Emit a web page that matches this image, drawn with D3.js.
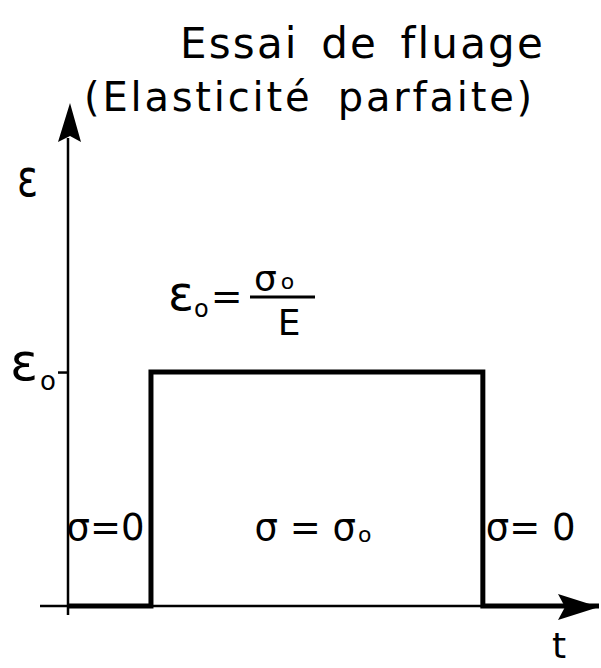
<!DOCTYPE html>
<html><head><meta charset="utf-8">
<script src="https://cdn.jsdelivr.net/npm/d3@7"></script>
<style>body{margin:0;background:#fff}svg{display:block}text{font-family:"DejaVu Sans",sans-serif;fill:#000}</style>
</head><body>
<script>
// ---- data ----
const titleLines = ["Essai de fluage", "(Elasticité parfaite)"];
const curveT = [0, 1, 1, 5, 5, 6.4];
const curveStrain = [0, 0, 1, 1, 0, 0];
const phaseStart = [0, 1, 5];
const phaseEnd = [1, 5, 6.25];
const phaseLabels = [["σ=0", ""], ["σ = σ", "o"], ["σ= 0", ""]];
const strainTicks = [1];
const axisLabels = {y: "ε", x: "t", tick: "ε"};

const W = 601, H = 668;
const svg = d3.select("body").append("svg").attr("width", W).attr("height", H);
const x = d3.scaleLinear().domain([0, 6.4]).range([68, 599]);
const y = d3.scaleLinear().domain([0, 2.15]).range([606, 103]);

// title: fit each line to its span by widening the word gaps
function titleLine(txt, x0, yb, fs, ls, target) {
  const t = svg.append("text").attr("x", x0).attr("y", yb).attr("font-size", fs)
    .attr("letter-spacing", ls).text(txt);
  const nat = t.node().getComputedTextLength();
  const spaces = (txt.match(/ /g) || []).length;
  if (spaces) t.attr("word-spacing", Math.max(0, (target - nat) / spaces));
}
titleLine(titleLines[0], 180, 58, 42, 2.2, 365);
titleLine(titleLines[1], 84, 111, 40, 2.8, 451);

// axes lines
const ax = svg.append("g").attr("stroke", "#000").attr("fill", "none");
ax.append("line").attr("x1", x(0)).attr("x2", x(0)).attr("y1", y(0) + 9).attr("y2", y(2.0)).attr("stroke-width", 2.5);
ax.append("line").attr("x1", 40).attr("x2", x(6.25)).attr("y1", y(0)).attr("y2", y(0)).attr("stroke-width", 2.5);
// arrowheads
const ty = y(2.15), tx = x(6.4);
svg.append("path").attr("d", `M${x(0)+2},${ty} L${x(0)+13},${ty+39} L${x(0)+2},${ty+33} L${x(0)-10},${ty+39} Z`).attr("fill", "#000");
svg.append("path").attr("d", `M${tx},${y(0)+1} L${tx-41},${y(0)+14} L${tx-34},${y(0)+1} L${tx-41},${y(0)-12} Z`).attr("fill", "#000");

// tick via d3 axis
const yAxis = d3.axisLeft(y).tickValues(strainTicks).tickSize(10).tickFormat("");
const gy = svg.append("g").attr("transform", `translate(${x(0)},0)`).call(yAxis);
gy.select(".domain").remove();
gy.selectAll(".tick line").attr("stroke", "#000").attr("stroke-width", 2.5);

// curve
const line = d3.line().x((d, i) => x(curveT[i])).y(d => y(d)).curve(d3.curveLinear);
svg.append("path").datum(curveStrain).attr("d", line).attr("fill", "none")
  .attr("stroke", "#000").attr("stroke-width", 5).attr("stroke-linejoin", "miter");

// axis labels
svg.append("text").attr("x", 17).attr("y", 196).attr("font-size", 52)
  .attr("transform", "translate(17,196) scale(0.75,1) translate(-17,-196)").text(axisLabels.y);
svg.append("text").attr("x", 552).attr("y", 658).attr("font-size", 36).text(axisLabels.x);
strainTicks.forEach(v => {
  const t = svg.append("text").attr("x", 10).attr("y", y(v) + 8).attr("font-size", 52);
  t.append("tspan").text(axisLabels.tick);
  t.append("tspan").attr("font-size", 26).attr("dy", 10).attr("dx", 2).text("o");
});

// formula ε0 = σ0 / E
const f = svg.append("text").attr("x", 168).attr("y", 310).attr("font-size", 48);
f.append("tspan").text("ε");
f.append("tspan").attr("font-size", 24).attr("dy", 7).text("o");
f.append("tspan").attr("font-size", 38).attr("dy", -8).attr("dx", 2).text("=");
svg.append("line").attr("x1", 250).attr("x2", 315).attr("y1", 297).attr("y2", 297).attr("stroke", "#000").attr("stroke-width", 3);
const num = svg.append("text").attr("x", 254).attr("y", 291).attr("font-size", 36);
num.append("tspan").text("σ");
num.append("tspan").attr("font-size", 22).attr("dy", -2).attr("dx", 4).text("o");
svg.append("text").attr("x", 289).attr("y", 335).attr("text-anchor", "middle").attr("font-size", 36).text("E");

// phase labels
phaseLabels.forEach((lab, i) => {
  const cx = (x(phaseStart[i]) + x(phaseEnd[i])) / 2 - 4;
  const t = svg.append("text").attr("x", cx).attr("y", 540).attr("text-anchor", "middle").attr("font-size", 37);
  t.append("tspan").text(lab[0]);
  if (lab[1]) t.append("tspan").attr("font-size", 22).attr("dy", 2).attr("dx", 2).text(lab[1]);
});
</script>
</body></html>
